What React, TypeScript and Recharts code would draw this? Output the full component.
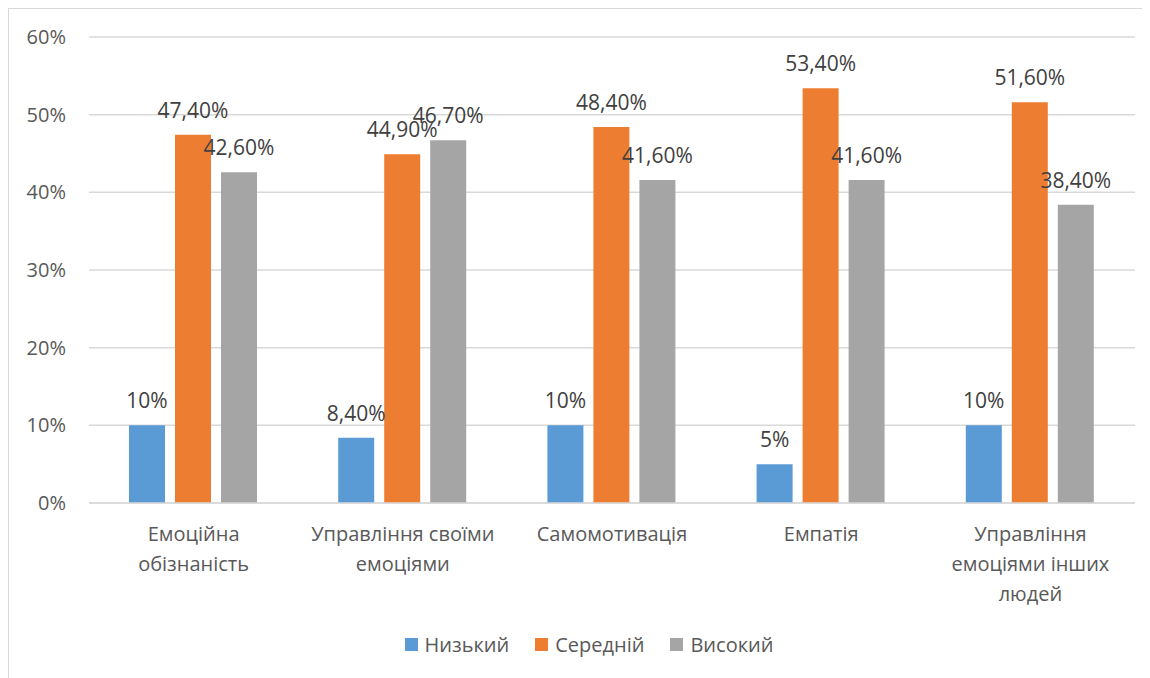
import React from 'react';
import { BarChart, Bar, XAxis, YAxis, CartesianGrid, Legend, LabelList } from 'recharts';

// Category names; "\n" marks where an axis label wraps
const categories = [
  'Емоційна\nобізнаність',
  'Управління своїми\nемоціями',
  'Самомотивація',
  'Емпатія',
  'Управління\nемоціями інших\nлюдей',
];
const lowValues = [10, 8.4, 10, 5, 10];
const midValues = [47.4, 44.9, 48.4, 53.4, 51.6];
const highValues = [42.6, 46.7, 41.6, 41.6, 38.4];
const yTicks = [0, 10, 20, 30, 40, 50, 60];
const seriesKeys = ['low', 'mid', 'high'];
const seriesNames = ['Низький', 'Середній', 'Високий'];
const seriesColors = ['#5b9bd5', '#ed7d31', '#a5a5a5'];

const data = categories.map((category, i) => ({
  category,
  low: lowValues[i],
  mid: midValues[i],
  high: highValues[i],
}));

const FONT = '"Open Sans", "Noto Sans", sans-serif';
const TEXT = '#595959';

const formatPercent = (v: number) =>
  Number.isInteger(v) ? `${v}%` : `${v.toFixed(2).replace('.', ',')}%`;

const CategoryTick = (props: any) => {
  const { x, y, payload } = props;
  const lines = String(payload.value).split('\n');
  return (
    <g transform={`translate(${x},${y})`}>
      {lines.map((line, i) => (
        <text
          key={i}
          x={0}
          y={31 + i * 30}
          dy="0.36em"
          textAnchor="middle"
          fill={TEXT}
          fontSize={20}
          fontFamily={FONT}
        >
          {line}
        </text>
      ))}
    </g>
  );
};

const LegendContent = () => (
  <div
    style={{
      display: 'flex',
      justifyContent: 'center',
      alignItems: 'center',
      height: 30,
      paddingLeft: 34,
      fontFamily: FONT,
      fontSize: 20,
      color: TEXT,
    }}
  >
    {seriesNames.map((name, i) => (
      <div key={name} style={{ display: 'flex', alignItems: 'center', marginRight: i < 2 ? 26 : 0 }}>
        <span style={{ width: 13, height: 13, background: seriesColors[i], marginRight: 7, display: 'inline-block' }} />
        <span>{name}</span>
      </div>
    ))}
  </div>
);

export default function App() {
  return (
    <div
      style={{
        width: 1142,
        height: 670,
        borderLeft: '1px solid #d9d9d9',
        borderTop: '1px solid #d9d9d9',
        background: '#fff',
        fontFamily: FONT,
      }}
    >
      <BarChart
        width={1141}
        height={669}
        data={data}
        margin={{ top: 28, right: 15, left: 0, bottom: 19 }}
        barCategoryGap={40}
        barGap={10}
      >
        <CartesianGrid vertical={false} stroke="#d9d9d9" strokeWidth={1.5} />
        <XAxis
          dataKey="category"
          axisLine={{ stroke: '#d9d9d9', strokeWidth: 1.5 }}
          tickLine={false}
          tickSize={0}
          tickMargin={0}
          height={126}
          interval={0}
          tick={<CategoryTick />}
        />
        <YAxis
          width={80}
          domain={[0, 60]}
          ticks={yTicks}
          axisLine={false}
          tickLine={false}
          tickSize={0}
          tickMargin={23}
          tickFormatter={(v: number) => `${v}%`}
          tick={{ fill: TEXT, fontSize: 20, fontFamily: FONT }}
        />
        <Legend verticalAlign="bottom" content={<LegendContent />} />
        {seriesKeys.map((key, i) => (
          <Bar
            key={key}
            dataKey={key}
            name={seriesNames[i]}
            fill={seriesColors[i]}
            isAnimationActive={false}
          >
            <LabelList
              dataKey={key}
              position="top"
              offset={17}
              formatter={(v: any) => formatPercent(Number(v))}
              fill="#404040"
              fontSize={21}
              fontFamily={FONT}
            />
          </Bar>
        ))}
      </BarChart>
    </div>
  );
}
